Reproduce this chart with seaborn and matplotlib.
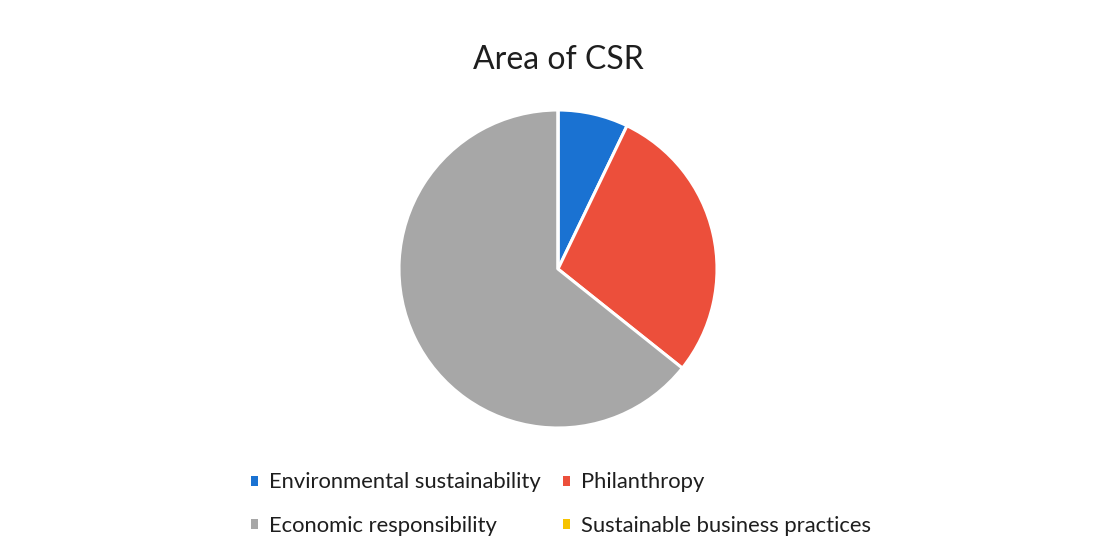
import matplotlib
matplotlib.use("Agg")
import matplotlib.pyplot as plt
from matplotlib.patches import Patch
import seaborn as sns

# Areas of CSR (number of responses)
areas = ["Environmental sustainability", "Philanthropy",
         "Economic responsibility", "Sustainable business practices"]
counts = [1, 4, 9, 0]
colors = ["#1a72d2", "#ec4f3b", "#a7a7a7", "#f6c300"]

sns.set_theme(style="white")
plt.rcParams["font.family"] = ["Lato", "DejaVu Sans"]

W, H = 1096, 553
fig = plt.figure(figsize=(W / 100, H / 100), dpi=100)
fig.patch.set_facecolor("white")

cx, cy, r = 558, 269, 159
ax = fig.add_axes([(cx - r) / W, (H - cy - r) / H, 2 * r / W, 2 * r / H])
ax.pie(counts, colors=colors, startangle=90, counterclock=False,
       radius=1.0, wedgeprops=dict(edgecolor="white", linewidth=2.2))
ax.set_xlim(-1.0, 1.0)
ax.set_ylim(-1.0, 1.0)
ax.set_aspect("equal")
ax.axis("off")

fig.text(cx / W, 1 - 60 / H, "Area of CSR", ha="center", va="center",
         fontsize=23, color="#1e1e1e")

handles = [Patch(facecolor=c, edgecolor="none", label=a)
           for a, c in zip(areas, colors)]
# legend fills column-wise; order entries so rows read left to right
order = [0, 2, 1, 3]
leg = fig.legend(handles=[handles[i] for i in order], ncol=2, loc="center",
                 bbox_to_anchor=(561 / W, 1 - 504 / H),
                 frameon=False, fontsize=15.8, handlelength=0.32,
                 handleheight=0.32, handletextpad=0.5, columnspacing=1.0,
                 labelspacing=1.05, labelcolor="#1e1e1e")

fig.savefig("out.png", dpi=100, facecolor="white")
